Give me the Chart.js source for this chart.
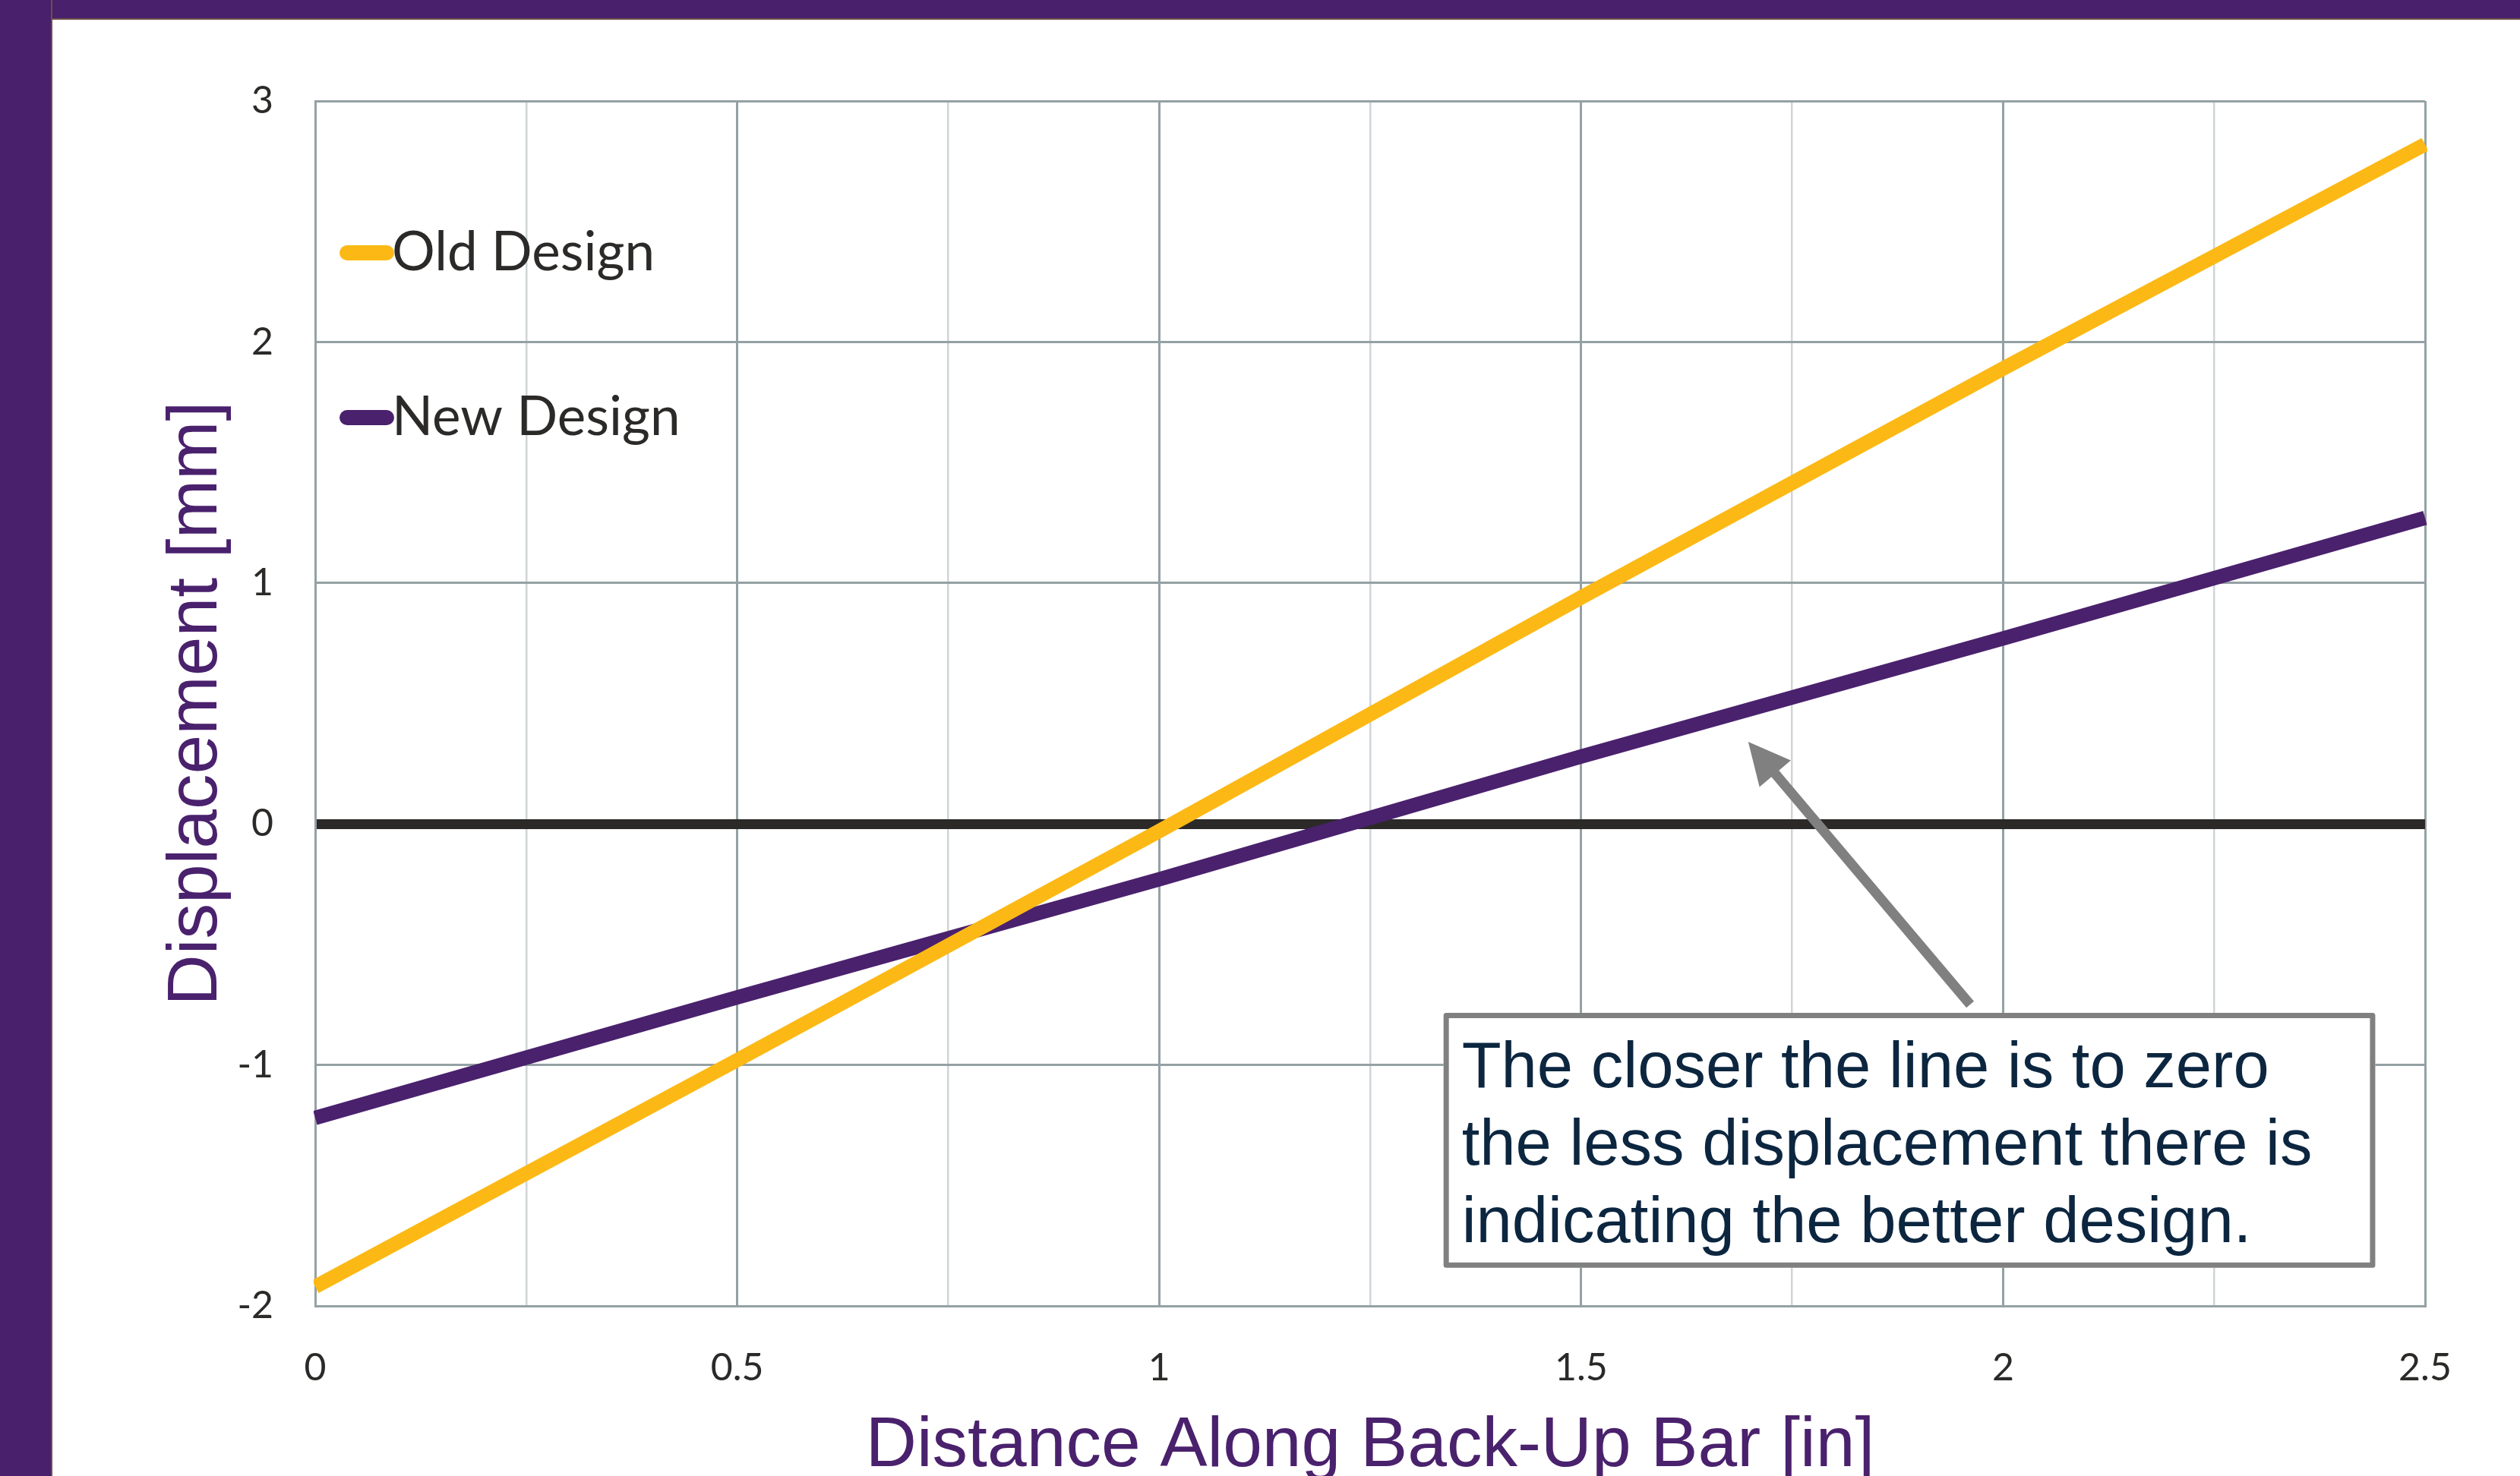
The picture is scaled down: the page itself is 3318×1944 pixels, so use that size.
<!DOCTYPE html>
<html>
<head>
<meta charset="utf-8">
<title>Displacement Along Back-Up Bar</title>
<script src="https://cdn.jsdelivr.net/npm/chart.js@4/dist/chart.umd.min.js"></script>
<style>
  html, body { margin: 0; padding: 0; background: #ffffff; overflow: hidden; }
  #page { position: relative; width: 3318px; height: 1944px; background: #ffffff; }
  #bandTop { position: absolute; left: 0; top: 0; width: 3318px; height: 24px; background: #48206b; border-bottom: 2px solid #6e5046; }
  #bandLeft { position: absolute; left: 0; top: 0; width: 67px; height: 1944px; background: #48206b; border-right: 2px solid #6e5046; }
  #chartWrap { position: absolute; left: 69px; top: 26px; width: 3249px; height: 1918px; }
</style>
</head>
<body>
<div id="page">
  <div id="bandTop"></div>
  <div id="bandLeft"></div>
  <div id="chartWrap"><canvas id="chart" width="3249" height="1918"></canvas></div>
</div>
<script>
// Distance along the back-up bar [in] and displacement [mm] for each design
const distance = [0, 0.5, 1, 1.5, 2, 2.5];
const oldDesign = [-1.92, -0.98, -0.03, 0.94, 1.89, 2.82];
const newDesign = [-1.22, -0.72, -0.23, 0.28, 0.77, 1.27];

const seriesNames = ['Old Design', 'New Design'];
const seriesColors = ['#FCB915', '#4A216D'];

// Axis ticks: x grid every 0.25 in (labelled every 0.5), y every 1 mm
const xTickValues = [0, 0.25, 0.5, 0.75, 1, 1.25, 1.5, 1.75, 2, 2.25, 2.5];
const xTickLabels = ['0', '', '0.5', '', '1', '', '1.5', '', '2', '', '2.5'];
const yTickValues = [-2, -1, 0, 1, 2, 3];
const yTickLabels = ['-2', '-1', '0', '1', '2', '3'];

const noteLines = [
  'The closer the line is to zero',
  'the less displacement there is',
  'indicating the better design.'
];

const GRID_MAJOR = '#94a1a4';
const GRID_MINOR = '#cfd5d7';
const INK = '#2b2a28';

function toPoints(xs, ys) {
  return xs.map((x, i) => ({ x: x, y: ys[i] }));
}

// In-plot legend, callout box and arrow
const overlayPlugin = {
  id: 'overlay',
  afterDatasetsDraw(chart) {
    const { ctx, chartArea, scales } = chart;
    const xs = scales.x, ys = scales.y;
    ctx.save();

    // legend entries inside the plot, top-left
    chart.data.datasets.forEach((ds, i) => {
      const cy = chartArea.top + 200 + i * 217;
      ctx.strokeStyle = ds.borderColor;
      ctx.lineWidth = 20;
      ctx.lineCap = 'round';
      ctx.beginPath();
      ctx.moveTo(chartArea.left + 42, cy);
      ctx.lineTo(chartArea.left + 94, cy);
      ctx.stroke();
      ctx.fillStyle = INK;
      ctx.font = '71px Lato';
      ctx.textAlign = 'left';
      ctx.textBaseline = 'alphabetic';
      ctx.fillText(ds.label, chartArea.left + 101, cy + 23);
    });

    // arrow pointing at the new-design line
    const tip = { x: xs.getPixelForValue(1.698), y: ys.getPixelForValue(0.341) };
    const tail = { x: xs.getPixelForValue(1.961), y: ys.getPixelForValue(-0.749) };
    const dx = tip.x - tail.x, dy = tip.y - tail.y;
    const len = Math.hypot(dx, dy);
    const ux = dx / len, uy = dy / len;
    const px = -uy, py = ux;
    const shaftHalf = 6.5, headLen = 55, headHalf = 27;
    const bx = tip.x - ux * headLen, by = tip.y - uy * headLen;
    ctx.fillStyle = '#808080';
    ctx.beginPath();
    ctx.moveTo(tail.x + px * shaftHalf, tail.y + py * shaftHalf);
    ctx.lineTo(bx + px * shaftHalf, by + py * shaftHalf);
    ctx.lineTo(bx + px * headHalf, by + py * headHalf);
    ctx.lineTo(tip.x, tip.y);
    ctx.lineTo(bx - px * headHalf, by - py * headHalf);
    ctx.lineTo(bx - px * shaftHalf, by - py * shaftHalf);
    ctx.lineTo(tail.x - px * shaftHalf, tail.y - py * shaftHalf);
    ctx.closePath();
    ctx.fill();

    // callout box
    const left = xs.getPixelForValue(1.337);
    const right = xs.getPixelForValue(2.441);
    const top = ys.getPixelForValue(-0.784);
    const bottom = ys.getPixelForValue(-1.842);
    const bw = 7;
    ctx.fillStyle = '#ffffff';
    ctx.fillRect(left, top, right - left, bottom - top);
    ctx.strokeStyle = '#808080';
    ctx.lineWidth = bw;
    ctx.lineJoin = 'round';
    ctx.strokeRect(left + bw / 2, top + bw / 2, right - left - bw, bottom - top - bw);

    ctx.fillStyle = '#0c2640';
    ctx.font = '85px "Liberation Sans", Arial, sans-serif';
    ctx.textAlign = 'left';
    ctx.textBaseline = 'alphabetic';
    noteLines.forEach((line, i) => {
      ctx.fillText(line, left + 24, top + 98 + i * 102);
    });

    ctx.restore();
  }
};

const chart = new Chart(document.getElementById('chart'), {
  type: 'line',
  data: {
    datasets: [
      {
        label: seriesNames[0],
        data: toPoints(distance, oldDesign),
        borderColor: seriesColors[0],
        backgroundColor: seriesColors[0],
        borderWidth: 19,
        borderCapStyle: 'butt',
        pointRadius: 0,
        tension: 0,
        clip: { left: 2, right: 3, top: 0, bottom: 0 }
      },
      {
        label: seriesNames[1],
        data: toPoints(distance, newDesign),
        borderColor: seriesColors[1],
        backgroundColor: seriesColors[1],
        borderWidth: 19,
        borderCapStyle: 'butt',
        pointRadius: 0,
        tension: 0,
        clip: { left: 2, right: 3, top: 0, bottom: 0 }
      }
    ]
  },
  options: {
    responsive: false,
    animation: false,
    devicePixelRatio: 1,
    layout: { padding: { top: 107, right: 125, left: 0, bottom: 0 } },
    plugins: {
      legend: { display: false },
      tooltip: { enabled: false },
      title: { display: false }
    },
    scales: {
      x: {
        type: 'linear',
        min: 0,
        max: 2.5,
        afterBuildTicks(scale) {
          scale.ticks = xTickValues.map(v => ({ value: v }));
        },
        afterFit(scale) { scale.height = 224; },
        ticks: {
          autoSkip: false,
          maxRotation: 0,
          padding: 52,
          color: INK,
          font: { family: 'Lato', size: 50, lineHeight: 1.2 },
          callback(value) {
            const i = xTickValues.indexOf(value);
            return i >= 0 ? xTickLabels[i] : '';
          }
        },
        grid: {
          drawTicks: false,
          color: c => (xTickLabels[xTickValues.indexOf(c.tick.value)] ? GRID_MAJOR : GRID_MINOR),
          lineWidth: c => (xTickLabels[xTickValues.indexOf(c.tick.value)] ? 3 : 2.5)
        },
        border: { display: true, color: GRID_MAJOR, width: 3 },
        title: {
          display: true,
          text: 'Distance Along Back-Up Bar [in]',
          color: '#4A216D',
          font: { family: '"Liberation Sans", Arial, sans-serif', size: 93, lineHeight: 0.8 },
          padding: { top: 0, bottom: 1.3 }
        }
      },
      y: {
        type: 'linear',
        min: -2,
        max: 3,
        afterBuildTicks(scale) {
          scale.ticks = yTickValues.map(v => ({ value: v }));
        },
        afterFit(scale) { scale.width = 346; },
        ticks: {
          padding: 55,
          color: INK,
          font: { family: 'Lato', size: 50, lineHeight: 1.2 },
          callback(value) {
            const i = yTickValues.indexOf(value);
            return i >= 0 ? yTickLabels[i] : '';
          }
        },
        grid: {
          drawTicks: false,
          color: c => (c.tick.value === 0 ? INK : GRID_MAJOR),
          lineWidth: c => (c.tick.value === 0 ? 13 : 3)
        },
        border: { display: true, color: GRID_MAJOR, width: 3 },
        title: {
          display: true,
          text: 'Displacement [mm]',
          color: '#4A216D',
          font: { family: '"Liberation Sans", Arial, sans-serif', size: 93, lineHeight: 1 },
          padding: { top: 144, bottom: 0 }
        }
      }
    }
  },
  plugins: [overlayPlugin]
});
</script>
</body>
</html>
